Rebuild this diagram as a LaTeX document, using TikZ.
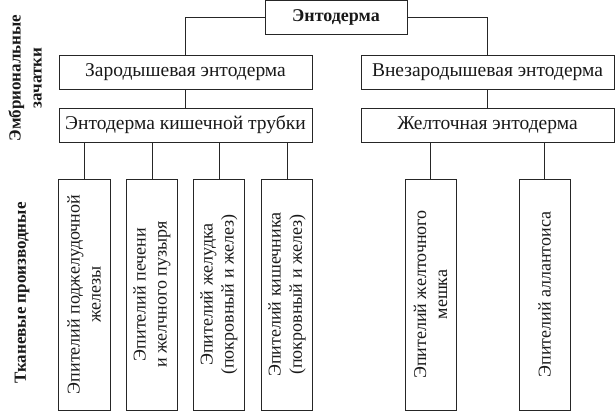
\documentclass[tikz,border=0pt]{standalone}
\usepackage{fontspec}
\setmainfont{Liberation Serif}
\begin{document}
\begin{tikzpicture}[x=1pt,y=-1pt,
  line width=0.8pt,
  box/.style={draw=black!85,inner sep=0pt,fill=white},
  lbl/.style={font=\fontsize{19.5}{22}\selectfont,text=black!90},
  blbl/.style={font=\fontsize{17}{21}\selectfont\bfseries,text=black!90,align=center,rotate=90},
  vlbl/.style={font=\fontsize{18}{21}\selectfont,text=black!90,align=center,rotate=90},
  conn/.style={draw=black!85}]
\useasboundingbox (0,0) rectangle (615,411);
% boxes
\node[box,minimum width=142pt,minimum height=34pt] (top) at (336,17) {};
\node[lbl,font=\fontsize{18}{21}\selectfont\bfseries] at (top) {Энтодерма};
\node[box,minimum width=253pt,minimum height=34pt] (zar) at (185.5,72) {};
\node[lbl] at (zar) {Зародышевая энтодерма};
\node[box,minimum width=253pt,minimum height=34pt] (kish) at (185.5,125) {};
\node[lbl] at (kish) {Энтодерма кишечной трубки};
\node[box,minimum width=253pt,minimum height=34pt] (vne) at (487.5,72) {};
\node[lbl] at (vne) {Внезародышевая энтодерма};
\node[box,minimum width=253pt,minimum height=34pt] (zhel) at (487.5,125) {};
\node[lbl] at (zhel) {Желточная энтодерма};
% bottom boxes
\node[box,minimum width=52pt,minimum height=231pt] (b1) at (84,294.5) {};
\node[vlbl] at (b1) {Эпителий поджелудочной\\железы};
\node[box,minimum width=51pt,minimum height=231pt] (b2) at (152,294.5) {};
\node[vlbl] at (b2) {Эпителий печени\\и желчного пузыря};
\node[box,minimum width=51pt,minimum height=231pt] (b3) at (219,294.5) {};
\node[vlbl] at (b3) {Эпителий желудка\\(покровный и желез)};
\node[box,minimum width=51pt,minimum height=231pt] (b4) at (287,294.5) {};
\node[vlbl] at (b4) {Эпителий кишечника\\(покровный и желез)};
\node[box,minimum width=51pt,minimum height=231pt] (b5) at (430.5,294.5) {};
\node[vlbl] at (b5) {Эпителий желточного\\мешка};
\node[box,minimum width=51pt,minimum height=231pt] (b6) at (544.5,294.5) {};
\node[vlbl] at (b6) {Эпителий аллантоиса};
% side labels
\node[blbl] (emb) at (25,78) {Эмбриональные\\зачатки};
\node[blbl] (tkan) at (22,293) {Тканевые производные};
% connectors
\draw[conn] (top.west) -| (zar.north);
\draw[conn] (top.east) -| (vne.north);
\draw[conn] (zar.south) -- (kish.north);
\draw[conn] (vne.south) -- (zhel.north);
\foreach \b in {b1,b2,b3,b4} \draw[conn] (\b.north) -- (\b.north |- kish.south);
\foreach \b in {b5,b6} \draw[conn] (\b.north) -- (\b.north |- zhel.south);
\end{tikzpicture}
\end{document}
